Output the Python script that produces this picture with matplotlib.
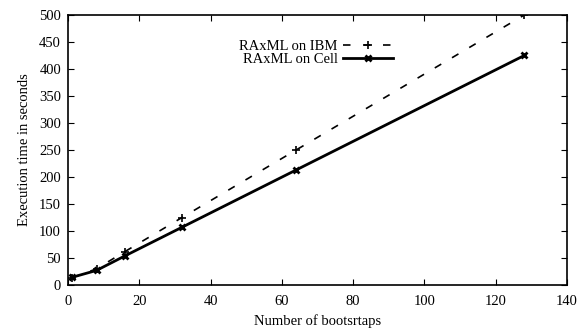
import matplotlib
matplotlib.use("Agg")
import matplotlib.pyplot as plt

plt.rcParams["font.family"] = ["Liberation Serif", "DejaVu Serif"]
plt.rcParams["font.size"] = 10.5

bootstraps = [1, 8, 16, 32, 64, 128]
ibm_times = [13, 30, 62, 125, 250, 500]
cell_times = [14, 27, 54, 107, 213, 425]

fig = plt.figure(figsize=(5.78, 3.28), dpi=100)
ax = fig.add_axes([68 / 578, 1 - 285 / 328, 499 / 578, 270 / 328])

ax.plot(bootstraps, ibm_times, color="black", linestyle=(0, (4.5, 7.5)), linewidth=1.2,
        marker="+", markersize=6, markeredgewidth=1.2, label="RAxML on IBM")
ax.plot(bootstraps, cell_times, color="black", linestyle="-", linewidth=2,
        marker="x", markersize=5, markeredgewidth=2, label="RAxML on Cell")

ax.set_xlim(0, 140)
ax.set_ylim(0, 500)
ax.set_xticks(range(0, 141, 20))
ax.set_yticks(range(0, 501, 50))
ax.tick_params(direction="in", top=True, right=True, length=4, width=0.8, pad=7)
ax.tick_params(axis="y", pad=5)
for s in ax.spines.values():
    s.set_linewidth(1.2)

ax.set_xlabel("Number of bootsrtaps", labelpad=5)
ax.set_ylabel("Execution time in seconds", labelpad=6)

ax.legend(loc="upper right", bbox_to_anchor=(0.662, 0.93), frameon=False,
          markerfirst=False, handlelength=3.4, labelspacing=0.0,
          borderaxespad=0, handletextpad=0.35)

fig.savefig("out.png", dpi=100)
